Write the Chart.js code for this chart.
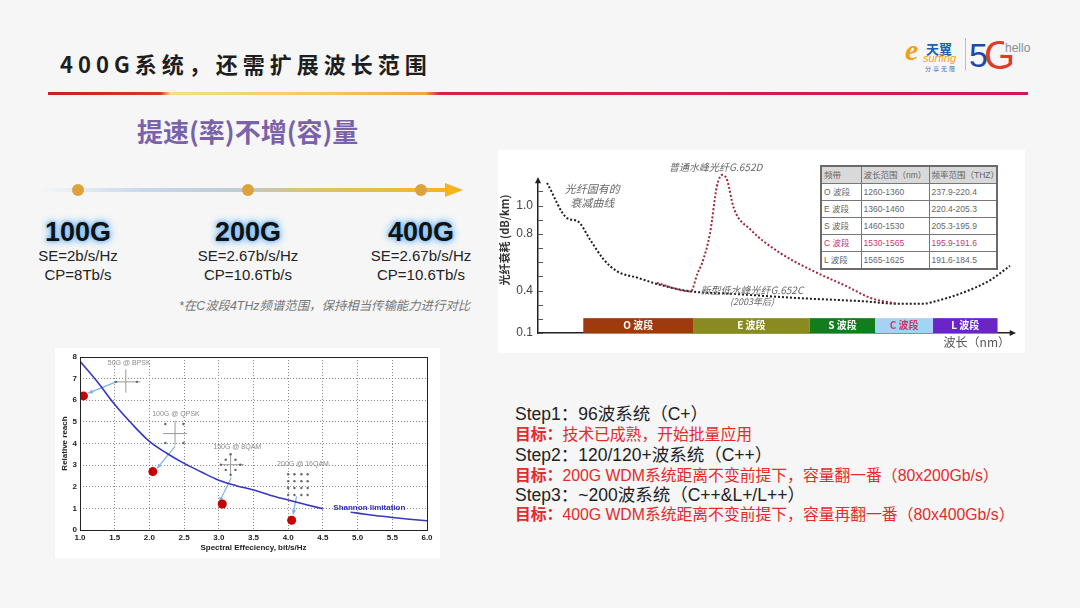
<!DOCTYPE html>
<html lang="zh">
<head>
<meta charset="utf-8">
<title>400G系统，还需扩展波长范围</title>
<script src="https://cdn.jsdelivr.net/npm/chart.js@4.4.1/dist/chart.umd.min.js"></script>
<style>
    html, body { margin: 0; padding: 0; }
    body {
        width: 1080px; height: 608px; position: relative; overflow: hidden;
        background: #f6f6f6;
        font-family: "Liberation Sans", "Noto Sans CJK SC", sans-serif;
    }
    .abs { position: absolute; line-height: 1; white-space: nowrap; }
    #title { left: 60px; top: 52px; font-size: 22px; font-weight: bold; letter-spacing: 5px; color: #1e1e1e; font-family: "Noto Sans CJK SC", sans-serif; }
    #rule { left: 48px; top: 92px; width: 980px; height: 3px;
        background: linear-gradient(to right, #c42028 0%, #d23a2c 11.5%, #f6dc8a 12.5%, #f2c86a 28%, #eaa848 38.5%, #d42440 40%, #d0185a 100%); }
    #heading { left: 137px; top: 118px; font-size: 26px; font-weight: bold; color: #7a62aa; font-family: "Noto Sans CJK SC", sans-serif; }
    #tline { left: 40px; top: 188px; width: 406px; height: 4px;
        background: linear-gradient(to right, rgba(220,226,236,0) 0%, #c9d9ec 25%, #bfcad0 50%, #d9c474 66%, #f2b61e 100%); }
    #tarrow { left: 445px; top: 183px; width: 0; height: 0;
        border-left: 18px solid #f5b31c; border-top: 7px solid transparent; border-bottom: 7px solid transparent; }
    .dot { width: 12px; height: 12px; border-radius: 50%; background: #dca33a; top: 184px; }
    .gen { width: 140px; text-align: center; font-size: 27px; font-weight: bold; color: #111;
        text-shadow: 0 0 4px #5aa8f0, 0 0 8px #8cc4f5, 0 0 10px #b8dcfa; top: 219px; }
    .spec { width: 160px; text-align: center; font-size: 15px; color: #222; }
    #note { left: 179px; top: 300px; font-size: 12.4px; font-style: italic; color: #777; }
    #fiberPanel { left: 498px; top: 150px; width: 527px; height: 203px; background: #fff; }
    #shannonPanel { left: 55px; top: 348px; width: 385px; height: 210px; background: #fff; }
    #bandTable { left: 820px; top: 165px; width: 176px; table-layout: fixed; border-collapse: collapse;
        font-size: 8.5px; color: #666; border: 2px solid #6a6a6a; background: #fff; }
    #bandTable td { border: 1px solid #777; height: 16px; padding: 0 2px; line-height: 1; overflow: hidden; }
    #bandTable tr:first-child td { background: #d9d9d9; }
    #bandTable tr.cband td { color: #c8386a; }
    .step { left: 515px; font-size: 17.5px; color: #222; }
    .goal { left: 515px; font-size: 15.8px; color: #e32b2b; }
    .goal b { font-weight: bold; }
</style>
</head>
<body>
<div class="abs" id="title">400G系统，还需扩展波长范围</div>
<div class="abs" id="rule"></div>

<!-- logo -->
<div class="abs" style="left:905px;top:33px;font:italic bold 30px 'Liberation Serif';color:#f0a01e;">e</div>
<div class="abs" style="left:926px;top:39px;font:bold 13px 'Noto Sans CJK SC';color:#1a5fb4;">天翼</div>
<div class="abs" style="left:923px;top:52px;font:italic 11px 'Liberation Sans';color:#f0a01e;">surfing</div>
<div class="abs" style="left:925px;top:64px;font:6px 'Noto Sans CJK SC';color:#3a6ab4;letter-spacing:2px;">分享无限</div>
<div class="abs" style="left:965px;top:38px;width:1px;height:32px;background:#bbb;"></div>
<div class="abs" style="left:969px;top:36px;font:34px 'Liberation Sans';color:#1d4aa6;">5</div>
<div class="abs" style="left:984px;top:33px;font:40px 'Liberation Sans';color:#e03a2a;">G</div>
<div class="abs" style="left:1004px;top:41px;font:12px 'Liberation Sans';color:#8a8a9a;background:#f6f6f6;padding:0 1px;">hello</div>

<div class="abs" id="heading">提速(率)不增(容)量</div>

<!-- timeline -->
<div class="abs" id="tline"></div>
<div class="abs" id="tarrow"></div>
<div class="abs dot" style="left:72px;"></div>
<div class="abs dot" style="left:242px;"></div>
<div class="abs dot" style="left:415px;"></div>
<div class="abs gen" style="left:8px;">100G</div>
<div class="abs gen" style="left:178px;">200G</div>
<div class="abs gen" style="left:351px;">400G</div>
<div class="abs spec" style="left:-2px;top:248px;">SE=2b/s/Hz</div>
<div class="abs spec" style="left:-2px;top:267px;">CP=8Tb/s</div>
<div class="abs spec" style="left:168px;top:248px;">SE=2.67b/s/Hz</div>
<div class="abs spec" style="left:168px;top:267px;">CP=10.6Tb/s</div>
<div class="abs spec" style="left:341px;top:248px;">SE=2.67b/s/Hz</div>
<div class="abs spec" style="left:341px;top:267px;">CP=10.6Tb/s</div>
<div class="abs" id="note">*在C波段4THz频谱范围，保持相当传输能力进行对比</div>

<!-- charts -->
<div class="abs" id="fiberPanel"><canvas id="fiberChart" width="527" height="203"></canvas></div>
<table class="abs" id="bandTable"></table>
<div class="abs" id="shannonPanel"><canvas id="shannonChart" width="385" height="210"></canvas></div>

<!-- steps -->
<div class="abs step" style="top:406px;">Step1：96波系统（C+）</div>
<div class="abs goal" style="top:427px;"><b>目标：</b>技术已成熟，开始批量应用</div>
<div class="abs step" style="top:447px;">Step2：120/120+波系统（C++）</div>
<div class="abs goal" style="top:468px;"><b>目标：</b>200G WDM系统距离不变前提下，容量翻一番（80x200Gb/s）</div>
<div class="abs step" style="top:487px;">Step3：~200波系统（C++&amp;L+/L++）</div>
<div class="abs goal" style="top:507px;"><b>目标：</b>400G WDM系统距离不变前提下，容量再翻一番（80x400Gb/s）</div>

<script>
// fiber attenuation chart (x: wavelength nm, y: dB/km)
const bandNames = ['O 波段', 'E 波段', 'S 波段', 'C 波段', 'L 波段'];
const bandStart = [1260, 1357, 1460, 1518, 1569];
const bandEnd = [1357, 1460, 1518, 1569, 1626];
const bandColors = ['#9e3a10', '#8a8a22', '#137c1d', '#a8d2f4', '#6a24c8'];
const bandTextColors = ['#ffffff', '#ffffff', '#ffffff', '#c8386a', '#ffffff'];

const lowWaterX = [1228, 1246, 1255, 1266, 1278, 1290, 1308, 1328, 1355, 1390, 1449, 1508, 1537, 1561, 1567, 1596, 1620, 1637];
const lowWaterY = [1.16, 0.91, 0.89, 0.76, 0.62, 0.535, 0.49, 0.44, 0.394, 0.378, 0.347, 0.324, 0.307, 0.307, 0.316, 0.387, 0.476, 0.575];

const waterPeakX = [1325, 1355, 1361, 1365, 1372, 1378, 1383, 1387, 1393, 1408, 1434, 1464, 1493, 1514, 1537];
const waterPeakY = [0.453, 0.394, 0.524, 0.594, 0.806, 1.135, 1.218, 1.182, 0.982, 0.829, 0.665, 0.535, 0.429, 0.347, 0.307];

const attenTicks = [0.1, 0.2, 0.3, 0.4, 0.5, 0.6, 0.7, 0.8, 0.9, 1.0, 1.1];
const attenLabels = [0.1, 0.4, 0.8, 1.0];

const tableHead = ['频带', '波长范围（nm）', '频率范围（THZ）'];
const tableWave = ['1260-1360', '1360-1460', '1460-1530', '1530-1565', '1565-1625'];
const tableFreq = ['237.9-220.4', '220.4-205.3', '205.3-195.9', '195.9-191.6', '191.6-184.5'];

// shannon chart (x: spectral efficiency, y: relative reach)
const shannonX = [1, 1.25, 1.5, 1.75, 2, 2.25, 2.5, 2.75, 3, 3.25, 3.5, 3.75, 4, 4.25, 4.5, 4.7, 4.9, 5, 5.25, 5.5, 5.75, 6];
const shannonY = [7.8, 6.85, 5.8, 4.9, 4.1, 3.55, 3.08, 2.68, 2.3, 2.05, 1.85, 1.6, 1.39, 1.18, 0.98, null, 0.82, 0.78, 0.67, 0.58, 0.5, 0.43];

const formatNames = ['50G @ BPSK', '100G @ QPSK', '150G @ 8QAM', '200G @ 16QAM'];
const formatX = [1.05, 2.05, 3.05, 4.05];
const formatY = [6.2, 2.7, 1.2, 0.45];

const constX = [1.52, 1.82,
    2.23, 2.49, 2.23, 2.49,
    3.17, 3.10, 3.24, 3.03, 3.31, 3.10, 3.24, 3.17,
    4.00, 4.09, 4.19, 4.28, 4.00, 4.09, 4.19, 4.28, 4.00, 4.09, 4.19, 4.28, 4.00, 4.09, 4.19, 4.28];
const constY = [6.85, 6.85,
    4.90, 4.90, 4.02, 4.02,
    3.50, 3.25, 3.25, 3.02, 3.02, 2.78, 2.78, 2.55,
    2.58, 2.58, 2.58, 2.58, 2.26, 2.26, 2.26, 2.26, 1.94, 1.94, 1.94, 1.94, 1.62, 1.62, 1.62, 1.62];

// annotation placement, in data units
const fiberNotes = [
    { text: '普通水峰光纤G.652D', x: 1377, y: 1.27, size: 10 },
    { text: '光纤固有的', x: 1268, y: 1.12, size: 11 },
    { text: '衰减曲线', x: 1268, y: 1.02, size: 11 },
    { text: '新型低水峰光纤G.652C', x: 1409, y: 0.40, size: 10 },
    { text: '(2003年后)', x: 1409, y: 0.32, size: 9 }
];
const formatLabelPos = [[1.40, 7.73], [2.04, 5.37], [2.92, 3.84], [3.84, 3.06]];
const crossLines = [
    [1.51, 6.85, 1.87, 6.85], [1.66, 6.35, 1.66, 7.43],
    [2.20, 4.46, 2.54, 4.46], [2.37, 3.92, 2.37, 5.06],
    [3.03, 3.02, 3.36, 3.02], [3.17, 2.48, 3.17, 3.56]
];
const arrowLines = [
    [1.52, 6.85, 1.12, 6.33],
    [2.37, 3.87, 2.11, 2.85],
    [3.18, 2.43, 3.01, 1.31],
    [4.12, 1.55, 4.07, 0.72]
];

Chart.defaults.font.family = '"Liberation Sans", "Noto Sans CJK SC", sans-serif';
Chart.defaults.animation = false;

function buildTable() {
    const table = document.getElementById('bandTable');
    let html = '<colgroup><col style="width:40px"><col style="width:68px"><col style="width:68px"></colgroup>';
    html += '<tr>' + tableHead.map(h => '<td>' + h + '</td>').join('') + '</tr>';
    bandNames.forEach((name, i) => {
        html += '<tr' + (i === 3 ? ' class="cband"' : '') + '><td>' + name +
            '</td><td>' + tableWave[i] + '</td><td>' + tableFreq[i] + '</td></tr>';
    });
    table.innerHTML = html;
}

function drawArrowHead(ctx, x1, y1, x2, y2, size) {
    const a = Math.atan2(y2 - y1, x2 - x1);
    ctx.beginPath();
    ctx.moveTo(x2, y2);
    ctx.lineTo(x2 - size * Math.cos(a - 0.45), y2 - size * Math.sin(a - 0.45));
    ctx.lineTo(x2 - size * Math.cos(a + 0.45), y2 - size * Math.sin(a + 0.45));
    ctx.closePath();
    ctx.fill();
}

const fiberDecor = {
    id: 'fiberDecor',
    beforeDatasetsDraw(chart) {
        const { ctx, scales: { x, y } } = chart;
        ctx.save();
        const top = y.getPixelForValue(0.205);
        const bottom = y.getPixelForValue(0.1);
        bandNames.forEach((name, i) => {
            const x1 = x.getPixelForValue(bandStart[i]);
            const x2 = x.getPixelForValue(bandEnd[i]);
            ctx.fillStyle = bandColors[i];
            ctx.fillRect(x1, top, x2 - x1, bottom - top);
            ctx.fillStyle = bandTextColors[i];
            ctx.font = 'bold 10px "Noto Sans CJK SC"';
            ctx.textAlign = 'center';
            ctx.textBaseline = 'middle';
            ctx.fillText(name, (x1 + x2) / 2, (top + bottom) / 2);
        });
        ctx.restore();
    },
    afterDraw(chart) {
        const { ctx, chartArea, scales: { x, y } } = chart;
        ctx.save();
        // inward minor ticks
        ctx.strokeStyle = '#555';
        ctx.lineWidth = 1;
        y.ticks.forEach(t => {
            const py = Math.round(y.getPixelForValue(t.value)) + 0.5;
            ctx.beginPath();
            ctx.moveTo(chartArea.left, py);
            ctx.lineTo(chartArea.left + 5, py);
            ctx.stroke();
        });
        // axis arrows
        ctx.fillStyle = '#222';
        drawArrowHead(ctx, chartArea.left, chartArea.top + 10, chartArea.left, chartArea.top - 6, 7);
        drawArrowHead(ctx, chartArea.right - 10, chartArea.bottom, chartArea.right + 6, chartArea.bottom, 7);
        // notes
        ctx.fillStyle = '#666';
        ctx.textAlign = 'center';
        ctx.textBaseline = 'middle';
        fiberNotes.forEach(n => {
            ctx.font = 'italic ' + n.size + 'px "Noto Sans CJK SC"';
            ctx.fillText(n.text, x.getPixelForValue(n.x), y.getPixelForValue(n.y));
        });
        // axis titles
        ctx.fillStyle = '#555';
        ctx.font = '12px "Noto Sans CJK SC"';
        ctx.textAlign = 'right';
        ctx.fillText('波长（nm）', chartArea.right, chartArea.bottom + 9);
        ctx.translate(7, 90);
        ctx.rotate(-Math.PI / 2);
        ctx.textAlign = 'center';
        ctx.fillStyle = '#333';
        ctx.font = 'bold 11px "Noto Sans CJK SC"';
        ctx.fillText('光纤衰耗 (dB/km)', 0, 0);
        ctx.restore();
    }
};

function createFiberChart() {
    const lowWater = lowWaterX.map((v, i) => ({ x: v, y: lowWaterY[i] }));
    const waterPeak = waterPeakX.map((v, i) => ({ x: v, y: waterPeakY[i] }));
    const config = {
        type: 'line',
        data: {
            datasets: [{
                label: '普通水峰光纤G.652D',
                data: waterPeak,
                borderColor: '#9c2a3a',
                borderWidth: 2,
                borderDash: [2, 2],
                pointRadius: 0,
                cubicInterpolationMode: 'monotone',
                clip: false
            }, {
                label: '新型低水峰光纤G.652C',
                data: lowWater,
                borderColor: '#1e1e1e',
                borderWidth: 2,
                borderDash: [2, 2],
                pointRadius: 0,
                cubicInterpolationMode: 'monotone',
                clip: false
            }]
        },
        options: {
            responsive: false,
            layout: { padding: { top: 33, right: 15, left: 0, bottom: 0 } },
            plugins: { legend: { display: false }, tooltip: { enabled: false } },
            scales: {
                x: {
                    type: 'linear',
                    min: 1220,
                    max: 1637,
                    ticks: { display: false },
                    grid: { display: false, drawTicks: false },
                    border: { color: '#222', width: 1.5 },
                    afterFit: s => { s.height = 20; }
                },
                y: {
                    type: 'linear',
                    min: 0.1,
                    max: 1.16,
                    afterBuildTicks: s => { s.ticks = attenTicks.map(v => ({ value: v })); },
                    ticks: {
                        autoSkip: false,
                        padding: 5,
                        color: '#444',
                        font: { size: 12 },
                        callback: v => attenLabels.some(t => Math.abs(t - v) < 1e-6) ? v.toFixed(1) : ''
                    },
                    grid: { display: false, drawTicks: false },
                    border: { color: '#222', width: 1.5 },
                    afterFit: s => { s.width = 40; }
                }
            }
        },
        plugins: [fiberDecor]
    };
    const ctx = document.getElementById('fiberChart').getContext('2d');
    new Chart(ctx, config);
}

const shannonDecor = {
    id: 'shannonDecor',
    beforeDatasetsDraw(chart) {
        const { ctx, scales: { x, y } } = chart;
        ctx.save();
        ctx.strokeStyle = '#9a9a9a';
        ctx.lineWidth = 1;
        crossLines.forEach(l => {
            ctx.beginPath();
            ctx.moveTo(x.getPixelForValue(l[0]), y.getPixelForValue(l[1]));
            ctx.lineTo(x.getPixelForValue(l[2]), y.getPixelForValue(l[3]));
            ctx.stroke();
        });
        ctx.strokeStyle = '#7db2e2';
        ctx.fillStyle = '#7db2e2';
        ctx.lineWidth = 1.2;
        arrowLines.forEach(l => {
            const x1 = x.getPixelForValue(l[0]), y1 = y.getPixelForValue(l[1]);
            const x2 = x.getPixelForValue(l[2]), y2 = y.getPixelForValue(l[3]);
            ctx.beginPath();
            ctx.moveTo(x1, y1);
            ctx.lineTo(x2, y2);
            ctx.stroke();
            drawArrowHead(ctx, x1, y1, x2, y2, 5);
        });
        ctx.restore();
    },
    afterDraw(chart) {
        const { ctx, chartArea, scales: { x, y } } = chart;
        ctx.save();
        ctx.strokeStyle = '#222';
        ctx.lineWidth = 1;
        ctx.strokeRect(chartArea.left + 0.5, chartArea.top + 0.5, chartArea.width, chartArea.height);
        ctx.fillStyle = '#8a8a8a';
        ctx.font = '7px "Liberation Sans"';
        ctx.textAlign = 'left';
        ctx.textBaseline = 'middle';
        formatNames.forEach((name, i) => {
            ctx.fillText(name, x.getPixelForValue(formatLabelPos[i][0]), y.getPixelForValue(formatLabelPos[i][1]));
        });
        ctx.fillStyle = '#2a2ab4';
        ctx.font = 'bold 8px "Liberation Sans"';
        ctx.fillText('Shannon limitation', x.getPixelForValue(4.65), y.getPixelForValue(1.02));
        ctx.fillStyle = '#222';
        ctx.textAlign = 'center';
        ctx.fillText('Spectral Effeciency, bit/s/Hz', (chartArea.left + chartArea.right) / 2, chartArea.bottom + 18);
        ctx.translate(10, (chartArea.top + chartArea.bottom) / 2);
        ctx.rotate(-Math.PI / 2);
        ctx.fillText('Relative reach', 0, 0);
        ctx.restore();
    }
};

function createShannonChart() {
    const curve = shannonX.map((v, i) => ({ x: v, y: shannonY[i] }));
    const formats = formatX.map((v, i) => ({ x: v, y: formatY[i] }));
    const dots = constX.map((v, i) => ({ x: v, y: constY[i] }));
    const config = {
        type: 'line',
        data: {
            datasets: [{
                label: 'formats',
                data: formats,
                showLine: false,
                pointRadius: 4.5,
                pointBackgroundColor: '#c80000',
                pointBorderWidth: 0
            }, {
                label: 'constellation',
                data: dots,
                showLine: false,
                pointRadius: 1.2,
                pointBackgroundColor: '#666',
                pointBorderWidth: 0
            }, {
                label: 'Shannon limitation',
                data: curve,
                borderColor: '#3636c4',
                borderWidth: 1.6,
                pointRadius: 0,
                cubicInterpolationMode: 'monotone',
                spanGaps: false
            }]
        },
        options: {
            responsive: false,
            layout: { padding: { top: 9, right: 13, left: 0, bottom: 0 } },
            plugins: { legend: { display: false }, tooltip: { enabled: false } },
            scales: {
                x: {
                    type: 'linear',
                    min: 1,
                    max: 6,
                    ticks: { stepSize: 0.5, padding: 3, color: '#222', font: { size: 8, weight: 'bold' } },
                    grid: { color: '#888', drawTicks: false },
                    border: { display: false, dash: [1, 2] },
                    afterFit: s => { s.height = 28; }
                },
                y: {
                    type: 'linear',
                    min: 0,
                    max: 8,
                    ticks: { stepSize: 1, padding: 3, color: '#222', font: { size: 8, weight: 'bold' } },
                    grid: { color: '#888', drawTicks: false },
                    border: { display: false, dash: [1, 2] },
                    afterFit: s => { s.width = 25; }
                }
            }
        },
        plugins: [shannonDecor]
    };
    const ctx = document.getElementById('shannonChart').getContext('2d');
    new Chart(ctx, config);
}

buildTable();
createFiberChart();
createShannonChart();
</script>
</body>
</html>
